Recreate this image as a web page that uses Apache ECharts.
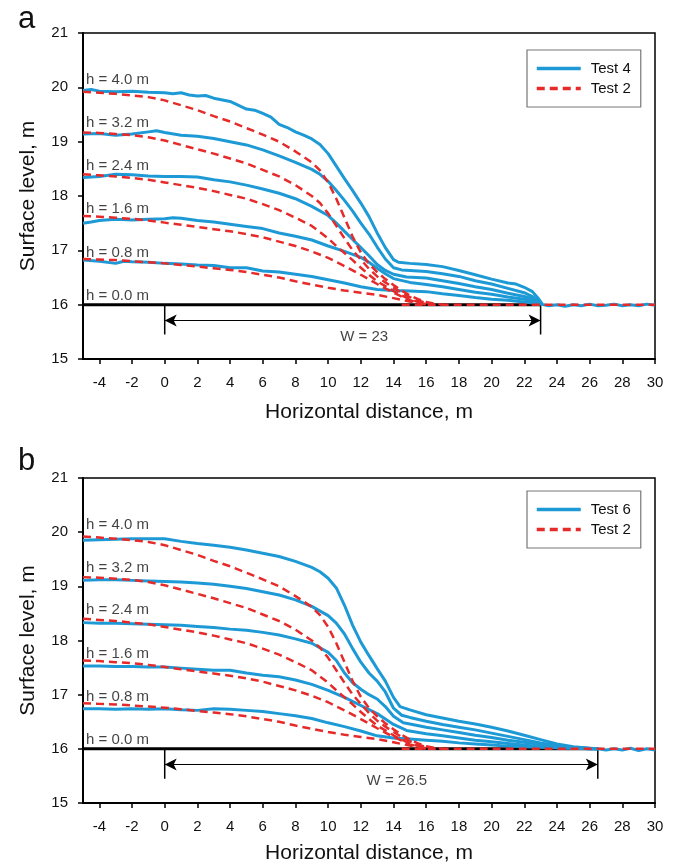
<!DOCTYPE html>
<html>
<head>
<meta charset="utf-8">
<script src="https://cdn.jsdelivr.net/npm/echarts@6/dist/echarts.min.js"></script>
<style>html,body{margin:0;padding:0;background:#fff}#c{width:678px;height:866px}</style>
</head>
<body>
<div id="c"></div>
<script>
// ---------- data ----------
const xTicks = [-4,-2,0,2,4,6,8,10,12,14,16,18,20,22,24,26,28,30];
const hLabels = ['h = 4.0 m','h = 3.2 m','h = 2.4 m','h = 1.6 m','h = 0.8 m','h = 0.0 m'];
const hLabelY = [20.14,19.35,18.56,17.76,16.96,16.17];

// Test 2 (red dashed) - same in both panels
const t2_h40 = [[-5,19.92],[-4,19.9],[-3,19.88],[-2,19.85],[-1,19.82],[0,19.76],[1,19.67],[2,19.58],[3,19.47],[4,19.37],[5,19.25],[6,19.13],[7,19.0],[8,18.82],[9,18.62],[9.5,18.47],[10,18.25],[10.5,17.95],[11,17.6],[11.5,17.25],[12,16.96],[12.5,16.75],[13,16.6],[13.5,16.47],[14,16.36],[14.5,16.26],[15,16.17],[15.5,16.1],[16,16.05],[16.5,16.02],[17,16.0]];
const t2_h32 = [[-5,19.17],[-4,19.16],[-3,19.14],[-2,19.12],[-1,19.08],[0,19.02],[1,18.94],[2,18.86],[3,18.78],[4,18.69],[5,18.6],[6,18.48],[7,18.36],[8,18.2],[9,18.0],[9.5,17.87],[10,17.68],[10.5,17.45],[11,17.22],[11.5,17.0],[12,16.83],[12.5,16.66],[13,16.52],[13.5,16.41],[14,16.31],[14.5,16.22],[15,16.14],[15.5,16.08],[16,16.03],[16.5,16.0]];
const t2_h24 = [[-5,18.4],[-4,18.38],[-3,18.36],[-2,18.33],[-1,18.3],[0,18.25],[1,18.2],[2,18.15],[3,18.09],[4,18.02],[5,17.95],[6,17.85],[7,17.74],[8,17.6],[9,17.45],[10,17.22],[10.5,17.08],[11,16.95],[11.5,16.82],[12,16.68],[12.5,16.55],[13,16.43],[13.5,16.34],[14,16.25],[14.5,16.17],[15,16.1],[15.5,16.05],[16,16.01]];
const t2_h16 = [[-5,17.63],[-4,17.62],[-3,17.6],[-2,17.58],[-1,17.55],[0,17.51],[1,17.47],[2,17.43],[3,17.39],[4,17.35],[5,17.3],[6,17.24],[7,17.16],[8,17.08],[9,16.98],[10,16.86],[11,16.71],[12,16.55],[13,16.38],[13.5,16.3],[14,16.22],[14.5,16.15],[15,16.08],[15.5,16.04],[16,16.01]];
const t2_h08 = [[-5,16.84],[-4,16.83],[-3,16.82],[-2,16.8],[-1,16.78],[0,16.76],[1,16.73],[2,16.7],[3,16.67],[4,16.64],[5,16.6],[6,16.55],[7,16.5],[8,16.43],[9,16.37],[10,16.31],[11,16.26],[12,16.22],[13,16.18],[14,16.12],[15,16.06],[15.5,16.03],[16,16.0]];
const t2_h00 = [[14.5,16.0],[30,16.0]];

// Test 4 (panel a, blue)
const t4_h40 = [[-5,19.94],[-4.5,19.96],[-4,19.93],[-3,19.92],[-2,19.93],[-1,19.91],[0,19.9],[0.5,19.88],[1,19.9],[1.5,19.86],[2,19.84],[2.5,19.85],[3,19.8],[4,19.74],[5,19.6],[5.5,19.58],[6,19.52],[6.5,19.45],[7,19.32],[7.5,19.26],[8,19.18],[8.5,19.12],[9,19.05],[9.5,18.95],[10,18.78],[10.5,18.55],[11,18.32],[11.5,18.1],[12,17.87],[12.5,17.62],[13,17.32],[13.5,17.05],[14,16.83],[14.3,16.78],[15,16.76],[16,16.74],[17,16.7],[18,16.63],[19,16.55],[20,16.47],[21,16.4],[21.5,16.38],[22,16.32],[22.5,16.24],[22.9,16.1],[23.1,16.01]];
const t4_h32 = [[-5,19.14],[-4,19.15],[-3,19.12],[-2,19.14],[-1,19.18],[-0.5,19.2],[0,19.17],[1,19.12],[2,19.1],[3,19.06],[4,19.0],[5,18.94],[6,18.85],[7,18.74],[8,18.62],[9,18.49],[9.5,18.4],[10,18.27],[10.5,18.1],[11,17.92],[11.5,17.72],[12,17.5],[12.5,17.3],[13,17.06],[13.5,16.84],[14,16.68],[14.5,16.64],[15,16.63],[16,16.61],[17,16.57],[18,16.52],[19,16.44],[20,16.38],[21,16.3],[22,16.22],[22.5,16.15],[23.1,16.01]];
const t4_h24 = [[-5,18.34],[-4,18.36],[-3,18.4],[-2,18.39],[-1,18.37],[0,18.36],[1,18.36],[2,18.35],[3,18.3],[4,18.26],[5,18.2],[6,18.13],[7,18.05],[8,17.95],[9,17.81],[10,17.64],[10.5,17.5],[11,17.35],[11.5,17.2],[12,17.05],[12.5,16.9],[13,16.74],[13.5,16.63],[14,16.56],[14.8,16.51],[16,16.49],[17,16.44],[18,16.39],[19,16.33],[20,16.28],[21,16.21],[22,16.15],[22.6,16.1],[23.1,16.01]];
const t4_h16 = [[-5,17.5],[-4.5,17.52],[-4,17.55],[-3,17.57],[-2,17.56],[-1,17.57],[0,17.58],[0.5,17.6],[1,17.59],[2,17.55],[3,17.52],[4,17.48],[5,17.44],[6,17.4],[7,17.32],[8,17.26],[9,17.19],[10,17.08],[11,16.98],[12,16.87],[12.5,16.78],[13,16.67],[13.5,16.57],[14,16.48],[15,16.41],[16,16.37],[17,16.33],[18,16.28],[19,16.23],[20,16.19],[21,16.14],[22,16.1],[22.6,16.06],[23.1,16.01]];
const t4_h08 = [[-5,16.82],[-4,16.8],[-3,16.76],[-2.5,16.8],[-2,16.79],[-1,16.78],[0,16.76],[1,16.75],[2,16.73],[3,16.72],[4,16.68],[5,16.68],[6,16.62],[7,16.6],[8,16.56],[9,16.52],[10,16.46],[11,16.4],[12,16.33],[13,16.28],[14,16.26],[15,16.25],[16,16.24],[17,16.2],[18,16.17],[19,16.13],[20,16.1],[21,16.08],[22,16.05],[23,16.01],[23.5,15.98],[24,16.0],[24.5,15.97],[25,16.0],[25.5,15.98],[26,16.01],[26.5,15.98],[27,15.99],[27.5,16.01],[28,15.98],[28.5,16.0],[29,15.98],[29.5,16.01],[30,15.99]];

// Test 6 (panel b, blue)
const t6_h40 = [[-5,19.85],[-4,19.86],[-3,19.87],[-2,19.88],[-1,19.88],[0,19.88],[1,19.83],[2,19.79],[3,19.76],[4,19.72],[5,19.67],[6,19.61],[7,19.55],[8,19.46],[9,19.35],[9.5,19.27],[10,19.15],[10.5,18.97],[11,18.65],[11.5,18.28],[12,17.97],[12.5,17.72],[13,17.48],[13.5,17.25],[14,16.95],[14.4,16.78],[15,16.72],[16,16.63],[17,16.57],[18,16.51],[19,16.46],[20,16.4],[21,16.33],[22,16.25],[23,16.17],[24,16.09],[25,16.04],[26,16.01],[26.5,16.0]];
const t6_h32 = [[-5,19.11],[-4,19.12],[-3,19.12],[-2,19.11],[-1,19.1],[0,19.09],[1,19.08],[2,19.06],[3,19.04],[4,19.0],[5,18.96],[6,18.9],[7,18.84],[8,18.75],[9,18.63],[10,18.46],[10.5,18.32],[11,18.12],[11.5,17.85],[12,17.6],[12.5,17.4],[13,17.25],[13.5,17.05],[14,16.75],[14.5,16.62],[15,16.58],[16,16.51],[17,16.45],[18,16.4],[19,16.35],[20,16.29],[21,16.23],[22,16.17],[23,16.11],[24,16.06],[25,16.03],[26,16.01],[26.5,16.0]];
const t6_h24 = [[-5,18.33],[-4,18.32],[-3,18.32],[-2,18.31],[-1,18.3],[0,18.29],[1,18.28],[2,18.26],[3,18.24],[4,18.21],[5,18.19],[6,18.15],[7,18.1],[8,18.03],[9,17.95],[10,17.78],[10.5,17.63],[11,17.4],[11.5,17.22],[12,17.1],[12.5,17.0],[13,16.92],[13.5,16.78],[14,16.6],[14.6,16.48],[15,16.46],[16,16.4],[17,16.35],[18,16.3],[19,16.25],[20,16.21],[21,16.16],[22,16.12],[23,16.08],[24,16.04],[25,16.02],[26,16.0],[26.5,16.0]];
const t6_h16 = [[-5,17.53],[-4,17.53],[-3,17.52],[-2,17.52],[-1,17.51],[0,17.51],[1,17.49],[2,17.47],[3,17.45],[4,17.45],[5,17.4],[6,17.36],[7,17.33],[8,17.27],[9,17.19],[10,17.08],[11,16.95],[12,16.8],[13,16.65],[13.5,16.55],[14,16.45],[14.8,16.34],[16,16.28],[17,16.24],[18,16.2],[19,16.16],[20,16.13],[21,16.1],[22,16.07],[23,16.04],[24,16.02],[25,16.01],[26.5,16.0]];
const t6_h08 = [[-5,16.74],[-4,16.74],[-3,16.73],[-2,16.74],[-1,16.73],[0,16.74],[1,16.72],[2,16.71],[3,16.74],[4,16.73],[5,16.71],[6,16.69],[7,16.65],[8,16.61],[9,16.56],[10,16.48],[11,16.41],[12,16.33],[13,16.24],[14,16.2],[15,16.18],[16,16.16],[17,16.14],[18,16.11],[19,16.09],[20,16.07],[21,16.05],[22,16.04],[23,16.03],[24,16.02],[25,16.01],[26,16.0],[26.5,16.0],[27,15.98],[27.5,16.0],[28,15.98],[28.5,16.01],[29,15.97],[29.5,16.0],[30,15.98]];

const widthA = 23, widthB = 26.5;
const dimY = 15.71, barBottom = 15.45, wTextY = 15.4;
const wTextXA = 12.2, wTextXB = 14.2;

// ---------- chart ----------
const BLUE = '#1d9ad6', RED = '#e62a2a', TXT = '#111';
const FONT = 'Liberation Sans, Arial';
const chart = echarts.init(document.getElementById('c'), null, {renderer:'canvas'});

function xAxisCfg(gi, gap){
  return {gridIndex:gi, type:'value', min:-5, max:30,
    name:'Horizontal distance, m', nameLocation:'middle', nameGap:gap,
    nameTextStyle:{fontSize:21, color:TXT, fontFamily:FONT},
    axisLine:{show:true, onZero:false, lineStyle:{color:'#000', width:2}},
    axisTick:{show:true, inside:false, length:5, customValues:xTicks, lineStyle:{color:'#000', width:1.5}},
    axisLabel:{customValues:xTicks, margin:16, fontSize:15, color:TXT, fontFamily:FONT},
    splitLine:{show:false}};
}
function yAxisCfg(gi){
  return {gridIndex:gi, type:'value', min:15, max:21, interval:1,
    name:'Surface level, m', nameLocation:'middle', nameGap:44,
    nameTextStyle:{fontSize:21, color:TXT, fontFamily:FONT},
    axisLine:{show:true, onZero:false, lineStyle:{color:'#000', width:2}},
    axisTick:{show:true, inside:false, length:5, lineStyle:{color:'#000', width:1.5}},
    axisLabel:{margin:15, fontSize:15, color:TXT, fontFamily:FONT},
    splitLine:{show:false}};
}
function blue(name, gi, data){
  return {type:'line', name, xAxisIndex:gi, yAxisIndex:gi, data, symbol:'none', z:3,
    lineStyle:{color:BLUE, width:3}, itemStyle:{color:BLUE}, animation:false};
}
function red(gi, data){
  return {type:'line', name:'Test 2', xAxisIndex:gi, yAxisIndex:gi, data, symbol:'none', z:4,
    lineStyle:{color:RED, width:2.5, type:[8,5]}, itemStyle:{color:RED}, animation:false};
}
function panelExtras(gi, W, wx){
  const s = [];
  s.push({type:'line', name:'base', xAxisIndex:gi, yAxisIndex:gi, data:[[-5,16],[W,16]], symbol:'none', z:2,
    lineStyle:{color:'#000', width:3}, animation:false, silent:true});
  s.push({type:'line', name:'bar0', xAxisIndex:gi, yAxisIndex:gi, data:[[0,16],[0,barBottom]], symbol:'none', z:2,
    lineStyle:{color:'#000', width:1.5}, animation:false, silent:true});
  s.push({type:'line', name:'bar1', xAxisIndex:gi, yAxisIndex:gi, data:[[W,16],[W,barBottom]], symbol:'none', z:2,
    lineStyle:{color:'#000', width:1.5}, animation:false, silent:true,
    markLine:{silent:true, symbol:['arrow','arrow'], symbolSize:[9,12], label:{show:false},
      lineStyle:{color:'#000', width:1.2, type:'solid'},
      data:[[{coord:[0,dimY]},{coord:[W,dimY]}]]}});
  s.push({type:'scatter', name:'wtext', xAxisIndex:gi, yAxisIndex:gi, data:[[wx,wTextY]], symbolSize:0, z:5,
    label:{show:true, position:'inside', formatter:'W = '+W, fontSize:15, color:TXT, fontFamily:FONT},
    animation:false, silent:true});
  s.push({type:'scatter', name:'hlab', xAxisIndex:gi, yAxisIndex:gi,
    data:hLabelY.map((y,i)=>({value:[-5,y], name:hLabels[i]})), symbolSize:0, z:5,
    label:{show:true, position:'right', distance:3, formatter:p=>p.name, fontSize:15, color:TXT, fontFamily:FONT},
    animation:false, silent:true});
  return s;
}

const series = [
  ...panelExtras(0, widthA, wTextXA),
  blue('Test 4',0,t4_h40), blue('Test 4',0,t4_h32), blue('Test 4',0,t4_h24), blue('Test 4',0,t4_h16), blue('Test 4',0,t4_h08),
  red(0,t2_h40), red(0,t2_h32), red(0,t2_h24), red(0,t2_h16), red(0,t2_h08), red(0,t2_h00),
  ...panelExtras(1, widthB, wTextXB),
  blue('Test 6',1,t6_h40), blue('Test 6',1,t6_h32), blue('Test 6',1,t6_h24), blue('Test 6',1,t6_h16), blue('Test 6',1,t6_h08),
  red(1,t2_h40), red(1,t2_h32), red(1,t2_h24), red(1,t2_h16), red(1,t2_h08), red(1,t2_h00)
];

function legendCfg(first, top){
  return {data:[first,'Test 2'], orient:'vertical', left:527, top:top, width:112,
    itemWidth:44, itemHeight:14, itemGap:5, padding:[11,10,11,8],
    itemStyle:{opacity:0}, lineStyle:{width:3.5},
    borderColor:'#777', borderWidth:1.2, backgroundColor:'#fff', selectedMode:false,
    textStyle:{fontSize:15, color:TXT, fontFamily:FONT, padding:[0,0,0,5]}};
}

chart.setOption({
  backgroundColor:'#fff',
  animation:false,
  title:[
    {text:'a', left:13, top:-1, textStyle:{fontSize:31, fontWeight:'normal', color:'#111', fontFamily:FONT}},
    {text:'b', left:13, top:441, textStyle:{fontSize:31, fontWeight:'normal', color:'#111', fontFamily:FONT}}
  ],
  legend:[legendCfg('Test 4', 50), legendCfg('Test 6', 491)],
  grid:[
    {left:83, top:33, width:572, height:326, show:true, borderColor:'#000', borderWidth:1.5, backgroundColor:'transparent'},
    {left:83, top:478, width:572, height:325, show:true, borderColor:'#000', borderWidth:1.5, backgroundColor:'transparent'}
  ],
  xAxis:[xAxisCfg(0, 43), xAxisCfg(1, 40)],
  yAxis:[yAxisCfg(0), yAxisCfg(1)],
  series
});
</script>
</body>
</html>
